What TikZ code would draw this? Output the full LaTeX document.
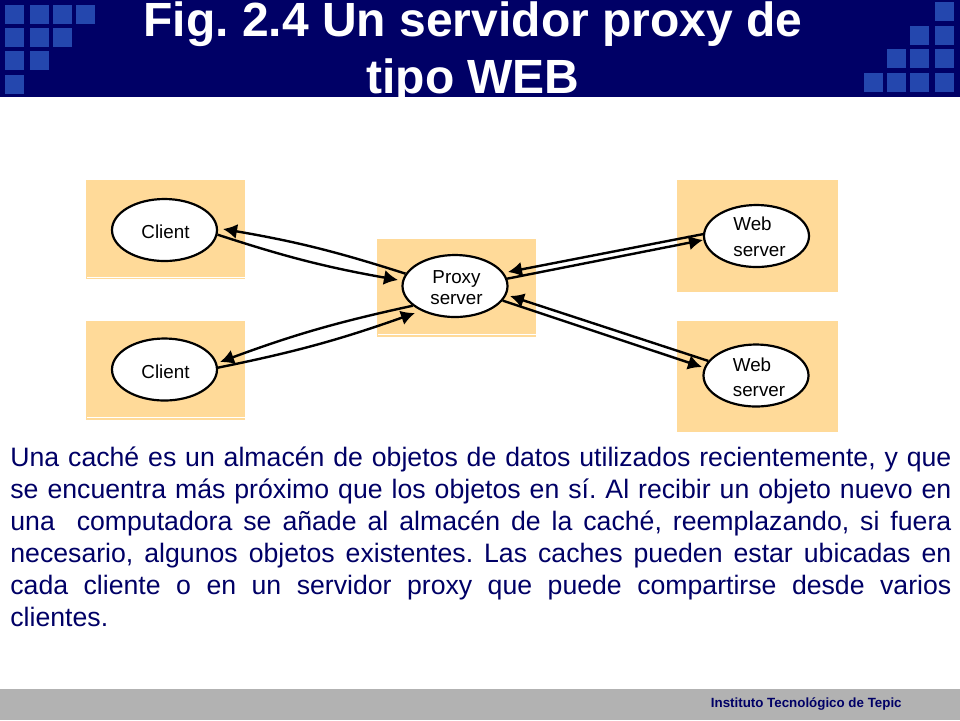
\documentclass[tikz,border=0pt]{standalone}
\usepackage{fontspec}
\setmainfont{Liberation Sans}
\usetikzlibrary{arrows.meta,shapes.geometric}
\definecolor{bandblue}{HTML}{000066}
\definecolor{squareblue}{HTML}{2447AE}
\definecolor{boxtan}{HTML}{FFDA99}
\definecolor{footgray}{HTML}{B2B2B2}
\tikzset{
	hostbox/.style={fill=boxtan, draw=none},
	hostline/.style={draw=white, line width=0.4pt},
	hostnode/.style={ellipse, draw=black, fill=white, line width=1.1pt, inner sep=0pt, minimum width=52.5pt, minimum height=31pt, font=\fontsize{9.4}{10.5}\selectfont},
	link/.style={line width=1.2pt, -{Latex[length=7pt,width=7.5pt]}},
}

\begin{document}
\begin{tikzpicture}[x=0.5pt, y=-0.5pt]
	%%%%% START %%%%%
	\useasboundingbox (0, 0) rectangle (960, 720);
	\fill[white] (0, 0) rectangle (960, 720);
	
	\fill[bandblue] (0, 0) rectangle (960, 97);
	\foreach \x/\y in {5/5, 30/5, 53/5, 76/5, 5/28, 30/28, 53/28, 5/51, 30/51, 5/75}
		\fill[squareblue] (\x, \y) rectangle ++(19, 19);
	\foreach \x/\y in {935/2, 910/26, 935/26, 887/49, 910/49, 935/49, 864/73, 887/73, 910/73, 935/73}
		\fill[squareblue] (\x, \y) rectangle ++(19, 19);
	
	\begin{scope}
		\clip (0, 0) rectangle (960, 97);
		\node[text=white, font=\frenchspacing\bfseries\fontsize{24}{28.5}\selectfont, align=center, anchor=base] (title) at (473, 93) {Fig. 2.4 Un servidor proxy de\\tipo WEB};
	\end{scope}
	
	\fill[hostbox] (86, 180) rectangle (245, 279);
	\draw[hostline] (87, 277) -- (245, 277);
	\fill[hostbox] (86, 321) rectangle (245, 420);
	\draw[hostline] (87, 417) -- (245, 417);
	\fill[hostbox] (377, 239) rectangle (536, 337);
	\draw[hostline] (378, 334) -- (536, 334);
	\fill[hostbox] (677, 180) rectangle (838, 292);
	\fill[hostbox] (677, 321) rectangle (838, 432);
	
	\node[hostnode, text height=8.4pt, text depth=0pt] (client1) at (164.5, 230) {\hspace*{1pt}Client};
	\node[hostnode, text height=8.8pt, text depth=0pt] (client2) at (164.5, 369.5) {\hspace*{1pt}Client};
	\node[hostnode, align=center] (proxy) at (455, 286) {\rule{0pt}{8pt}\hspace*{1.5pt}Proxy\\\hspace*{1.5pt}server};
	\node[hostnode, align=center, font=\fontsize{9.4}{12.8}\selectfont] (web1) at (756.5, 236) {\rule{0pt}{7.5pt}\hspace*{1pt}Web\hspace*{5pt}\\\hspace*{3pt}server};
	\node[hostnode, align=center, font=\fontsize{9.4}{12.5}\selectfont] (web2) at (756, 375.5) {\rule{0pt}{9pt}\hspace*{1pt}Web\hspace*{5pt}\\\hspace*{3pt}server};
	
	\coordinate (tipa) at (223, 229);
	\coordinate (tipb) at (398, 280);
	\coordinate (tipc) at (220, 362);
	\coordinate (tipd) at (415, 313);
	\coordinate (tipe) at (508, 272);
	\coordinate (tipf) at (703, 240);
	\coordinate (tipg) at (510, 296);
	\coordinate (tiph) at (702, 367);
	
	\draw[link] (proxy.166) to[bend right=4] (tipa);
	\draw[link] (client1.-5) to[bend right=4] (tipb);
	\draw[link] (proxy.205) to[bend right=4] (tipc);
	\draw[link] (client2.2) to[bend right=4] (tipd);
	\draw[link] (web1.178) -- (tipe);
	\draw[link] (proxy.8) -- (tipf);
	\draw[link] (web2.163) -- (tipg);
	\draw[link] (proxy.-17) -- (tiph);
	
	\node[anchor=north west, inner sep=0pt, text width=470.5pt, align=justify, text=bandblue, font=\frenchspacing\fontsize{13.33}{16}\selectfont] (body) at (10, 446) {Una caché es un almacén de objetos de datos utilizados recientemente, y que\linebreak se encuentra más próximo que los objetos en sí. Al recibir un objeto nuevo en\linebreak una\ \ computadora se añade al almacén de la caché, reemplazando, si fuera\linebreak necesario, algunos objetos existentes. Las caches pueden estar ubicadas en\linebreak cada cliente o en un servidor proxy que puede compartirse desde varios\linebreak clientes.};
	
	\fill[footgray] (0, 689) rectangle (960, 720);
	\node[text=bandblue, font=\bfseries\fontsize{6.67}{8}\selectfont, anchor=base east, inner sep=0pt] (footer) at (902, 707) {Instituto Tecnológico de Tepic};
	%%%%% END %%%%%
\end{tikzpicture}
\end{document}
